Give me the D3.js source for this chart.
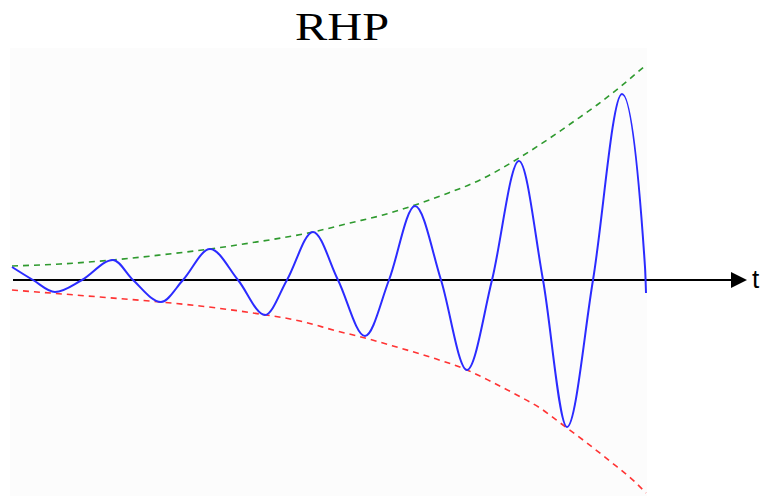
<!DOCTYPE html>
<html><head><meta charset="utf-8">
<script src="https://cdn.jsdelivr.net/npm/d3@7"></script>
<style>body{margin:0;background:#fff}svg{display:block}</style>
</head><body>
<script>
// Data (t in arbitrary time units, value = response amplitude)
const titleText = "RHP";
const axisLabel = "t";
// blue response: extrema and zero crossings
const respT = [0, 0.21, 0.43, 0.70, 1.01, 1.21, 1.49, 1.71, 1.98, 2.26, 2.53, 2.75, 3.01, 3.26, 3.53, 3.77, 4.03, 4.29, 4.55, 4.80, 5.07, 5.31, 5.55, 5.81, 6.10, 6.33, 6.34];
const respV = [0.13, 0, -0.12, 0, 0.20, 0, -0.22, 0, 0.31, 0, -0.35, 0, 0.48, 0, -0.56, 0, 0.74, 0, -0.90, 0, 1.19, 0, -1.47, 0, 1.86, 0.13, -0.13];
// growing envelope (upper, green)
const upperT = [0, 0.48, 1.01, 1.48, 1.98, 2.38, 3.01, 3.38, 3.71, 4.03, 4.31, 4.68, 5.07, 5.38, 5.61, 5.85, 6.08, 6.34];
const upperV = [0.14, 0.16, 0.20, 0.25, 0.31, 0.37, 0.48, 0.57, 0.65, 0.75, 0.85, 1.00, 1.22, 1.42, 1.58, 1.75, 1.93, 2.15];
// lower envelope (red)
const lowerT = [0, 0.88, 1.48, 1.88, 2.41, 2.88, 3.25, 3.53, 3.81, 4.18, 4.55, 4.78, 5.03, 5.28, 5.51, 5.75, 5.99, 6.23, 6.34];
const lowerV = [-0.10, -0.17, -0.22, -0.26, -0.33, -0.41, -0.51, -0.58, -0.66, -0.77, -0.90, -1.01, -1.14, -1.28, -1.45, -1.63, -1.82, -2.02, -2.13];

const W = 761, H = 496;
const svg = d3.select("body").append("svg").attr("width", W).attr("height", H);

const x = d3.scaleLinear().domain([0, 6.34]).range([12, 646]);
const y = d3.scaleLinear().domain([-2.16, 2.80]).range([496, 0]);

// faint plot background
svg.append("rect").attr("x", 10).attr("y", 48).attr("width", 637).attr("height", 448).attr("fill", "#fcfcfc");

// title
svg.append("text").attr("x", 342).attr("y", 40).attr("text-anchor", "middle")
  .attr("font-family", "Liberation Serif, Times New Roman, serif").attr("font-size", 40)
  .attr("textLength", 94).attr("lengthAdjust", "spacingAndGlyphs")
  .attr("fill", "#000").text(titleText);

// time axis with arrow
const y0 = y(0);
svg.append("line").attr("x1", 13).attr("x2", 733).attr("y1", y0).attr("y2", y0)
  .attr("stroke", "#000").attr("stroke-width", 2);
svg.append("path").attr("d", `M731,${y0 - 8}L747,${y0}L731,${y0 + 8}Z`).attr("fill", "#000");
svg.append("text").attr("x", 752).attr("y", y0 + 8)
  .attr("font-family", "Liberation Sans, Arial, sans-serif").attr("font-size", 26)
  .attr("fill", "#000").text(axisLabel);

const envLine = d3.line().x(d => x(d[0])).y(d => y(d[1])).curve(d3.curveMonotoneX);

svg.append("path").datum(d3.zip(upperT, upperV)).attr("d", envLine)
  .attr("fill", "none").attr("stroke", "#2f9a2f").attr("stroke-width", 1.6).attr("stroke-dasharray", "6,5");
svg.append("path").datum(d3.zip(lowerT, lowerV)).attr("d", envLine)
  .attr("fill", "none").attr("stroke", "#ff3333").attr("stroke-width", 1.6).attr("stroke-dasharray", "6,5");

const respLine = d3.line().x(d => x(d[0])).y(d => y(d[1])).curve(d3.curveMonotoneX);
svg.append("path").datum(d3.zip(respT, respV)).attr("d", respLine)
  .attr("fill", "none").attr("stroke", "#2b2bff").attr("stroke-width", 2);
</script>
</body></html>
